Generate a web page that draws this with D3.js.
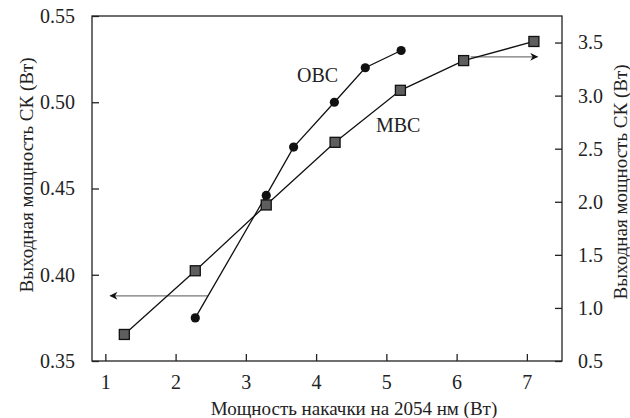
<!DOCTYPE html>
<html>
<head>
<meta charset="utf-8">
<script src="https://cdn.jsdelivr.net/npm/d3@7"></script>
<style>
  body { margin: 0; background: #fff; }
</style>
</head>
<body>
<svg id="chart" width="630" height="418"></svg>
<script>
// ОВС, left axis
const ovsX = [2.28, 3.29, 3.68, 4.26, 4.70, 5.21]
const ovsY = [0.375, 0.446, 0.474, 0.500, 0.520, 0.530]
// МВС, right axis
const mvsX = [1.27, 2.28, 3.29, 4.27, 5.20, 6.10, 7.10]
const mvsY = [0.75, 1.35, 1.97, 2.56, 3.05, 3.33, 3.51]

const xTicks = [1, 2, 3, 4, 5, 6, 7]
const leftTicks = [0.35, 0.40, 0.45, 0.50, 0.55]
const rightTicks = [0.5, 1.0, 1.5, 2.0, 2.5, 3.0, 3.5]

const xTitle = 'Мощность накачки на 2054 нм (Вт)'
const yTitle = 'Выходная мощность СК (Вт)'

const FONT = '"Liberation Serif", "DejaVu Serif", serif'
const margin = {left: 92, right: 68, top: 16, bottom: 57}
const W = 630, H = 418
const svg = d3.select('#chart').attr('font-family', FONT)

const x = d3.scaleLinear().domain([0.81, 7.5]).range([margin.left, W - margin.right])
const yL = d3.scaleLinear().domain([0.35, 0.55]).range([H - margin.bottom, margin.top])
const yR = d3.scaleLinear().domain([0.5, 3.75]).range([H - margin.bottom, margin.top])

const defs = svg.append('defs')
defs.append('marker')
  .attr('id', 'arrow')
  .attr('viewBox', '0 0 10 10')
  .attr('refX', 9).attr('refY', 5)
  .attr('markerWidth', 12).attr('markerHeight', 8)
  .attr('markerUnits', 'userSpaceOnUse')
  .attr('orient', 'auto')
  .append('path').attr('d', 'M0,0 L10,5 L0,10 L3,5 Z').attr('fill', '#111')

// frame
svg.append('rect')
  .attr('x', margin.left).attr('y', margin.top)
  .attr('width', W - margin.left - margin.right)
  .attr('height', H - margin.top - margin.bottom)
  .attr('fill', 'none').attr('stroke', '#222').attr('stroke-width', 1.3)

function styleAxis(g) {
  g.attr('font-family', FONT).attr('font-size', 20)
  g.select('.domain').remove()
  g.selectAll('line').attr('stroke', '#222').attr('stroke-width', 1.3)
  g.selectAll('text').attr('fill', '#222').style('font-family', FONT)
}

svg.append('g')
  .attr('transform', `translate(0,${H - margin.bottom})`)
  .call(d3.axisBottom(x).tickValues(xTicks).tickFormat(d3.format('d')).tickSizeInner(-7).tickPadding(14))
  .call(styleAxis)

svg.append('g')
  .attr('transform', `translate(${margin.left},0)`)
  .call(d3.axisLeft(yL).tickValues(leftTicks).tickFormat(d3.format('.2f')).tickSizeInner(-7).tickPadding(17))
  .call(styleAxis)

svg.append('g')
  .attr('transform', `translate(${W - margin.right},0)`)
  .call(d3.axisRight(yR).tickValues(rightTicks).tickFormat(d3.format('.1f')).tickSizeInner(-7).tickPadding(16))
  .call(styleAxis)

// axis titles
svg.append('text')
  .attr('x', (margin.left + W - margin.right) / 2 + 27).attr('y', 415)
  .attr('text-anchor', 'middle').attr('font-size', 19).attr('fill', '#222')
  .text(xTitle)

svg.append('text')
  .attr('transform', `translate(33,${175}) rotate(-90)`)
  .attr('text-anchor', 'middle').attr('font-size', 19).attr('fill', '#222')
  .text(yTitle)

svg.append('text')
  .attr('transform', `translate(627,${182}) rotate(-90)`)
  .attr('text-anchor', 'middle').attr('font-size', 19).attr('fill', '#222')
  .text(yTitle)

// arrows pointing to the axes
svg.append('line')
  .attr('x1', x(2.46)).attr('y1', yL(0.3878))
  .attr('x2', x(1.07)).attr('y2', yL(0.3878))
  .attr('stroke', '#777').attr('stroke-width', 1.3)
  .attr('marker-end', 'url(#arrow)')

svg.append('line')
  .attr('x1', x(6.2)).attr('y1', yR(3.365))
  .attr('x2', x(7.15)).attr('y2', yR(3.365))
  .attr('stroke', '#777').attr('stroke-width', 1.3)
  .attr('marker-end', 'url(#arrow)')

// lines
const ovs = ovsX.map((v, i) => [v, ovsY[i]])
const mvs = mvsX.map((v, i) => [v, mvsY[i]])

svg.append('path')
  .datum(mvs)
  .attr('d', d3.line().x(d => x(d[0])).y(d => yR(d[1])))
  .attr('fill', 'none').attr('stroke', '#111').attr('stroke-width', 1.3)

svg.append('path')
  .datum(ovs)
  .attr('d', d3.line().x(d => x(d[0])).y(d => yL(d[1])))
  .attr('fill', 'none').attr('stroke', '#111').attr('stroke-width', 1.3)

svg.selectAll('.sq')
  .data(mvs)
  .join('rect')
  .attr('class', 'sq')
  .attr('x', d => x(d[0]) - 5).attr('y', d => yR(d[1]) - 5)
  .attr('width', 10).attr('height', 10)
  .attr('fill', '#5e5e5e').attr('stroke', '#111').attr('stroke-width', 1.3)

svg.selectAll('.dot')
  .data(ovs)
  .join('circle')
  .attr('class', 'dot')
  .attr('cx', d => x(d[0])).attr('cy', d => yL(d[1]))
  .attr('r', 4.6)
  .attr('fill', '#111')

// series labels
svg.append('text').attr('x', 297).attr('y', 82).attr('font-size', 20).attr('fill', '#222').text('ОВС')
svg.append('text').attr('x', 376).attr('y', 132).attr('font-size', 20).attr('fill', '#222').text('МВС')
</script>
</body>
</html>
